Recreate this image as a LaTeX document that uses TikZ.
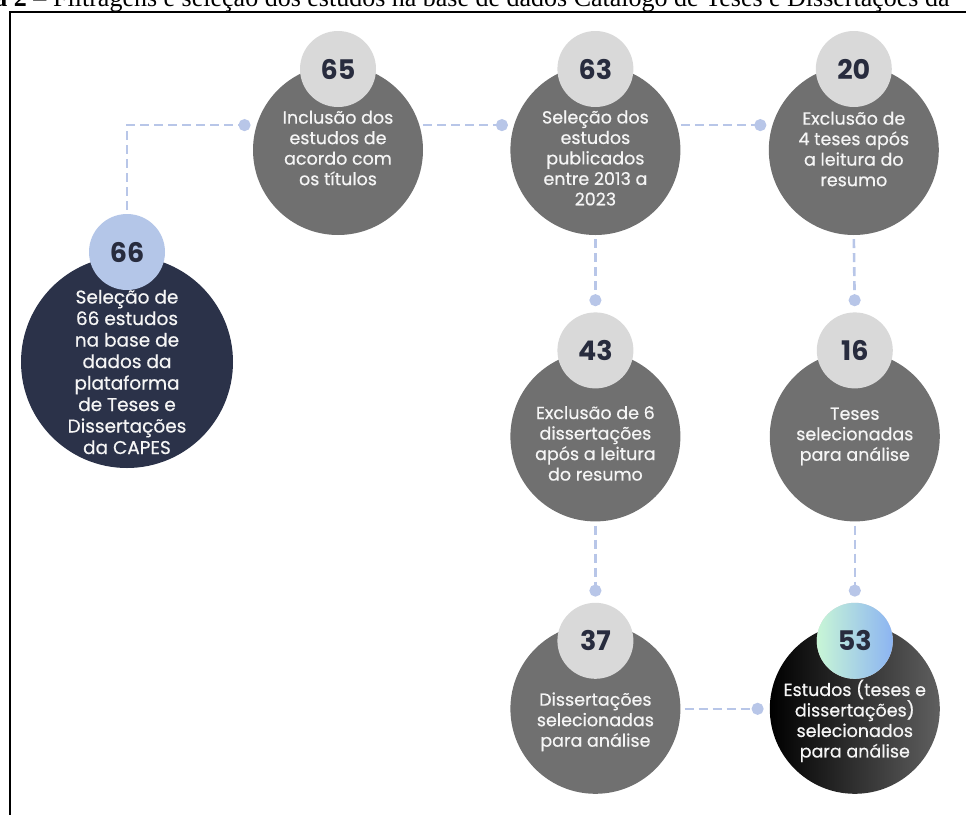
\documentclass[tikz,border=0pt]{standalone}
\usepackage{fontspec}
\setmainfont{Poppins}
\newfontfamily\medfont{Poppins}[FakeBold=0.5]
\newfontfamily\capfont{Liberation Serif}
\usepackage{tikz}
\usetikzlibrary{positioning, arrows.meta}
\definecolor{mynavy}{RGB}{43,50,73}
\definecolor{mygrey}{RGB}{112,112,112}
\definecolor{badgegrey}{RGB}{217,217,217}
\definecolor{badgeblue}{RGB}{180,198,232}
\definecolor{connblue}{RGB}{184,198,232}
\definecolor{numtext}{RGB}{40,44,62}
\definecolor{mintgreen}{RGB}{200,246,214}
\definecolor{skyblue}{RGB}{140,180,242}
\definecolor{softwhite}{RGB}{245,245,245}
\tikzset{
  greycirc/.style={circle, fill=mygrey, minimum size=170pt, inner sep=0pt},
  navycirc/.style={circle, fill=mynavy, minimum size=212pt, inner sep=0pt},
  darkcirc/.style={circle, left color=black, right color=mygrey!85!black,
    minimum size=170pt, inner sep=0pt},
  badge/.style={circle, fill=badgegrey, minimum size=76pt, inner sep=0pt,
    font=\fontsize{27}{27}\selectfont\bfseries, text=numtext},
  bluebadge/.style={badge, fill=badgeblue},
  gradbadge/.style={badge, left color=mintgreen, right color=skyblue},
  bodytext/.style={align=center, text=softwhite, inner sep=0pt,
    font=\medfont\fontsize{17.5}{20.5}\selectfont},
  conn/.style={dash pattern=on 9pt off 5pt, line width=2.6pt, color=connblue,
    -{Circle[length=12pt]}, shorten >=6pt, shorten <=4pt},
  captext/.style={font=\capfont\fontsize{26}{30}\selectfont, inner sep=0pt}
}

\begin{document}
\begin{tikzpicture}[x=1pt, y=1pt]
  \useasboundingbox (0,0) rectangle (966,-814);

  % Frame and caption
  \draw[line width=2.5pt] (10,-900) -- (10,-12) -- (1050,-12);
  \node[captext, anchor=base west] (cap) at (53,-6) {Filtragens e seleção dos estudos na base de dados Catálogo de Teses e Dissertações da};
  \node[captext, anchor=base east] (capnum) at ([xshift=-6.5pt]cap.base west) {\textbf{Figura 2} –};

  % Circles
  \node[navycirc] (c66) at (127,-362) {};
  \node[greycirc] (c65) at (338,-150) {};
  \node[greycirc, right=87pt of c65] (c63) {};
  \node[greycirc, right=88pt of c63] (c20) {};
  \node[greycirc, below=116pt of c63] (c43) {};
  \node[greycirc, right=89pt of c43] (c16) {};
  \node[greycirc, below=102pt of c43] (c37) {};
  \node[darkcirc, right=89pt of c37] (c53) {};

  % Badges
  \node[bluebadge] (n66) at ([yshift=110pt]c66.center) {66};
  \node[badge] (n65) at ([yshift=81pt]c65.center) {65};
  \node[badge] (n63) at ([yshift=81pt]c63.center) {63};
  \node[badge] (n20) at ([yshift=81pt]c20.center) {20};
  \node[badge] (n43) at ([yshift=86pt]c43.center) {43};
  \node[badge] (n16) at ([yshift=86pt]c16.center) {16};
  \node[badge] (n37) at ([yshift=68pt]c37.center) {37};
  \node[gradbadge] (n53) at ([yshift=68pt]c53.center) {53};

  % Texts
  \node[bodytext, font=\medfont\fontsize{18.5}{21.5}\selectfont] (t66) at ([yshift=-10pt]c66.center) {Seleção de\\66 estudos\\na base de\\dados da\\plataforma\\de Teses e\\Dissertações\\da CAPES};
  \node[bodytext] (t65) at ([yshift=2pt]c65.center) {Inclusão dos\\estudos de\\acordo com\\os títulos};
  \node[bodytext] (t63) at ([yshift=-8pt]c63.center) {Seleção dos\\estudos\\publicados\\entre 2013 a\\2023};
  \node[bodytext] (t20) at ([yshift=1pt]c20.center) {Exclusão de\\4 teses após\\a leitura do\\resumo};
  \node[bodytext] (t43) at ([yshift=-7pt]c43.center) {Exclusão de 6\\dissertações\\após a leitura\\do resumo};
  \node[bodytext] (t16) at (c16.center) {Teses\\selecionadas\\para análise};
  \node[bodytext] (t37) at ([yshift=-13pt]c37.center) {Dissertações\\selecionadas\\para análise};
  \node[bodytext] (t53) at ([yshift=-12pt]c53.center) {Estudos (teses e\\dissertações)\\selecionados\\para análise};

  % Connectors
  \draw[conn] (n66.north) |- (c65.163);
  \draw[conn] (c65.17) -- (c63.163);
  \draw[conn] (c63.17) -- (c20.163);
  \draw[conn] (c63.south) -- (n43.north);
  \draw[conn] (c20.south) -- (n16.north);
  \draw[conn] (c43.south) -- (n37.north);
  \draw[conn] (c16.south) -- (n53.north);
  \draw[conn] (c37.east) -- (c53.west);
\end{tikzpicture}
\end{document}
